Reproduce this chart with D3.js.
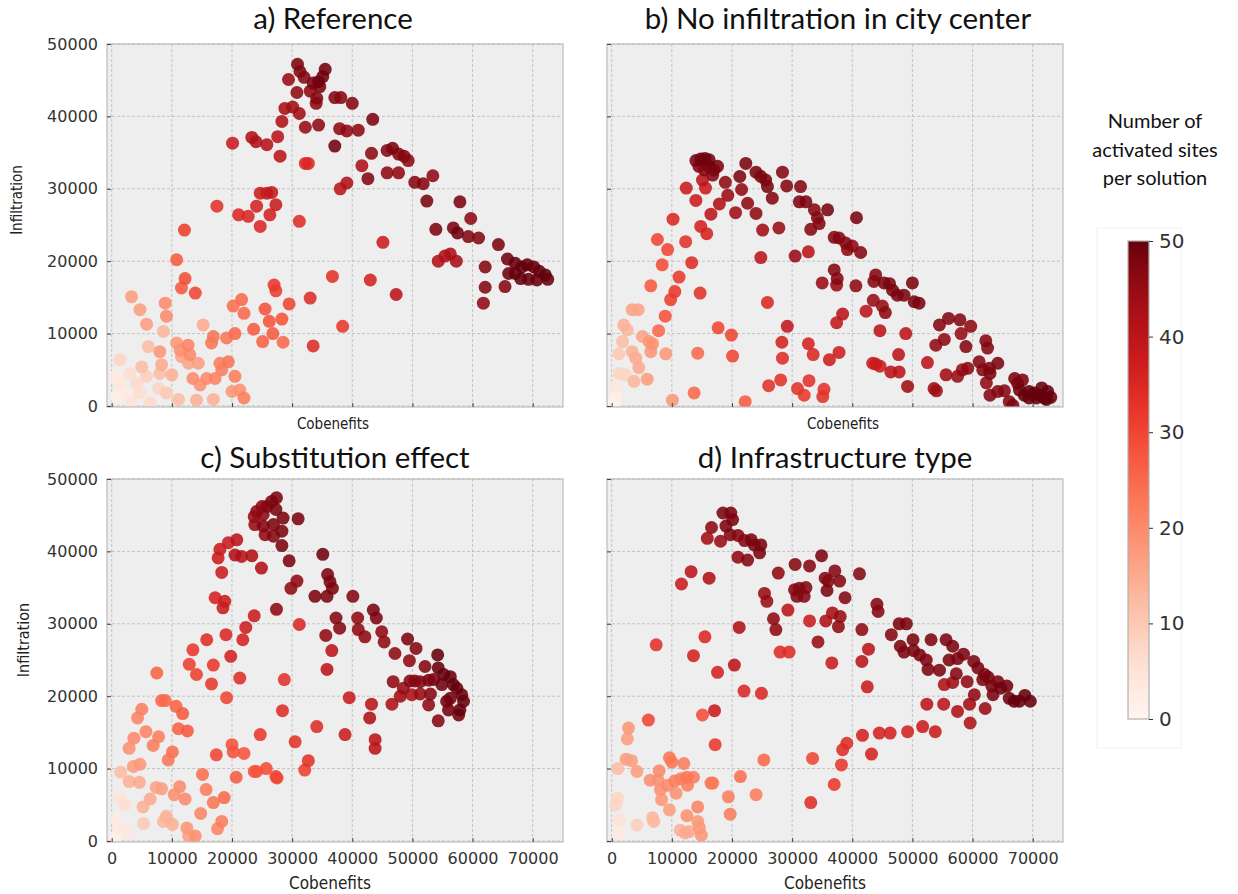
<!DOCTYPE html>
<html>
<head>
<meta charset="utf-8">
<script src="https://cdn.jsdelivr.net/npm/d3@7/dist/d3.min.js"></script>
<style>
  html, body { margin: 0; padding: 0; background: #ffffff; }
  svg { display: block; }
</style>
</head>
<body>
<svg id="chart" width="1238" height="894"></svg>
<script>
// ---- DATA: [cobenefits, infiltration, activated sites] ----
const panelTitles = ["a) Reference", "b) No infiltration in city center", "c) Substitution effect", "d) Infrastructure type"];
const xTickValues = [0, 10000, 20000, 30000, 40000, 50000, 60000, 70000];
const yTickValues = [0, 10000, 20000, 30000, 40000, 50000];
const colorTickValues = [0, 10, 20, 30, 40, 50];
const colorbarTitle = ["Number of", "activated sites", "per solution"];

const panelA = [
[30900,47200,48],[31300,46200,47],[29400,45100,45],[32000,45400,47],[30800,43300,46],[33000,43500,46],[33500,44600,48],[34400,44800,49],[35100,45500,49],[35500,46500,49],[34600,44100,48],[34100,42500,47],[34000,41800,46],[37100,42600,47],[38100,42600,47],[40000,41800,47],[28800,41100,43],[30100,41300,44],[31200,40400,44],[28300,39300,42],[32200,38500,45],[34400,38800,46],[37900,38300,46],[39100,38000,46],[41000,38100,46],[43400,39600,48],[23300,37100,42],[24000,36500,42],[25800,36100,41],[27600,37200,40],[20100,36300,38],[28000,34500,40],[37100,35900,49],[43200,34900,46],[45800,35300,47],[46700,35600,48],[47700,34800,47],[48600,34500,47],[49300,33900,46],[32200,33500,35],[32700,33500,35],[41600,33200,42],[42600,31400,47],[45800,32200,46],[47700,32200,46],[50400,30900,47],[51800,30700,47],[53400,31800,46],[38000,30000,40],[39100,30800,42],[52400,28300,48],[57900,28200,48],[59700,25900,46],[53900,24400,48],[56800,24600,48],[57500,23900,49],[59300,23400,47],[61000,23200,47],[64300,22300,48],[45100,22600,38],[54300,20000,42],[55400,20700,42],[56300,21000,42],[57300,20000,43],[62100,19200,47],[65800,20300,49],[66000,18300,49],[67100,19700,50],[68200,19200,50],[69100,19500,50],[70200,19200,50],[71100,18600,50],[72100,18100,50],[72500,17500,50],[68000,17600,50],[69300,17500,50],[70700,17400,50],[67100,18300,50],[62100,16400,47],[65400,16500,47],[61800,14200,46],[47300,15400,40],
[24700,29400,38],[25800,29400,38],[26600,29500,39],[27300,27800,38],[24100,27600,36],[17500,27600,33],[21100,26400,35],[22700,26200,35],[26300,26400,36],[24700,24800,35],[31200,25500,34],[12100,24300,31],[10800,20200,27],[12200,17600,29],[11600,16300,27],[13900,15600,30],[27000,16700,32],[27300,15900,31],[33000,14900,34],[36700,17900,33],[43000,17400,36],[38400,11000,32],[33500,8300,34],
[3300,15100,17],[4700,13300,17],[8900,14200,20],[9100,12400,20],[5800,11300,17],[15200,11200,15],[8600,10300,13],[20200,13800,24],[21600,14700,25],[22000,12800,25],[25500,13400,28],[26200,11700,28],[28300,12000,28],[29500,14100,30],[23600,10600,27],[20500,10000,25],[19100,9400,23],[16900,9600,23],[16600,8700,23],[25100,8900,26],[26800,10000,27],[28500,8800,25],[8000,7500,18],[12700,8400,21],[11400,7700,19],[13000,7100,20],[6100,8200,12],[5000,5400,12],[1400,6400,8],[8300,5700,15],[14400,5900,17],[18000,5900,22],[19400,6100,23],[18300,5000,22],[17200,3800,21],[15800,3800,20],[13500,3800,20],[14700,2900,19],[20500,4100,22],[20000,2000,18],[21300,2200,19],[22000,1100,22],[16900,900,14],[14100,800,14],[11100,900,12],[9100,1800,10],[6400,400,7],[3300,400,5],[1400,3100,4],[4200,3100,7],[800,1300,2],[7800,2400,8],[10000,4300,14],[11600,6800,16],[5800,4100,9],[3000,4500,6],[8000,4500,12],[10800,8700,18],[12800,5900,16],[600,4100,3],[4700,1800,6],[2200,1800,3]
];

const panelB = [
[14000,33900,48],[14800,34100,49],[15500,34200,49],[16200,34000,49],[14500,33100,47],[15400,32600,47],[16200,33100,48],[17000,32600,48],[17600,33100,48],[16800,31900,47],[15100,31200,40],[15600,30100,38],[12400,30100,38],[14000,28400,38],[18900,30900,46],[19300,29100,45],[17900,27900,42],[16500,26500,40],[22300,33500,48],[21300,31700,48],[21600,29900,46],[22600,28000,46],[20600,26700,44],[24000,32300,48],[24800,31700,48],[25600,31200,48],[25900,30300,48],[26700,28700,47],[24000,26600,46],[28400,32300,47],[29100,30400,47],[31400,30300,47],[31200,28200,48],[32300,28200,48],[33700,27100,47],[34200,26000,47],[35900,27100,48],[33100,24400,47],[34500,25200,47],[40700,26000,48],[27800,24600,45],[25100,24300,44],[37000,23300,47],[37800,23200,47],[38900,22500,47],[40000,22100,46],[39200,21600,46],[41400,21200,47],[30500,20700,45],[32700,21300,40],[24800,20500,40],[37000,18800,47],[37500,17600,47],[35000,17000,45],[37400,16700,45],[40600,16600,46],[43900,18100,47],[43600,17200,47],[45300,17000,48],[46200,16900,48],[46700,16000,48],[47500,15300,48],[48600,15300,48],[50000,17000,48],[50300,14400,48],[51100,14200,48],[43500,14600,45],[45000,13800,45],[45500,12900,46],[42300,13100,40],[38400,12700,40],[37400,11500,39],[44600,10400,40],[48900,10000,40],[54500,11200,47],[56000,12100,47],[57900,11900,47],[59700,11000,46],[58100,10000,45],[53900,8400,46],[55300,9200,46],[58900,8200,47],[62200,9000,47],[62500,8000,47],[52500,6000,40],[55600,4300,44],[57500,4100,45],[58300,5000,45],[59200,5200,46],[61100,6100,47],[61700,5000,47],[62800,5200,47],[64200,5900,48],[62900,4500,48],[62300,3200,46],[62900,1500,47],[64200,2000,47],[65300,2100,47],[66100,600,47],[67000,3800,48],[67500,3100,48],[68300,3600,48],[67800,2200,49],[68600,1500,50],[69400,2000,50],[70300,1800,50],[71100,1500,50],[71900,1100,50],[69400,1100,50],[70600,1100,50],[66700,100,48],[72500,2000,50],[73000,1200,50],[72300,900,50],[71500,2500,50],[49200,2700,44],[53600,2400,44],[54000,2100,44],[46400,4700,40],[47800,4700,40],[47700,7100,40],[43900,5800,38],[44600,5500,38],[43400,5900,38],
[10200,25800,35],[7600,23000,30],[9300,21600,30],[12300,22700,33],[14800,24800,36],[15800,23800,36],[8400,19500,29],[11200,17800,32],[13300,19800,34],[6500,16600,27],[10500,15800,32],[9800,14700,31],[14700,15600,33],[8900,12400,28],[7800,10400,25],[25900,14300,35],[29200,11000,39],[28300,8800,36],[17700,10800,30],[19900,9800,30],[20100,6900,30],[28400,6600,34],[32700,8600,36],[33500,7100,35],[36200,6400,37],[37800,7400,37],[26100,2800,33],[28100,3600,33],[30900,2400,33],[32800,3500,33],[32000,1500,32],[35300,2300,33],[35100,1300,33],[22200,600,27],[13700,1800,25],[10100,800,18],[14300,7300,25],[9000,7200,18],
[3400,13300,16],[4400,13300,16],[2000,11200,14],[2600,10500,13],[1800,8900,12],[5100,9600,16],[6200,8900,18],[6800,8600,19],[6500,7500,18],[3400,7500,14],[4000,6600,15],[4500,5300,15],[1200,7200,10],[1200,4500,8],[2300,4300,8],[5900,3700,17],[3700,3400,13],[700,2700,4],[700,1300,2],[400,400,1]
];

const panelC = [
[27400,47400,48],[26600,46900,48],[25800,46200,47],[25000,46200,46],[24100,45500,46],[23700,44800,44],[25200,45100,46],[27300,45800,48],[28500,44600,48],[31000,44500,48],[26900,43700,48],[25200,43500,47],[28300,42800,48],[25500,42300,46],[26900,42100,47],[28300,40800,48],[23800,43700,45],[20800,41600,40],[19400,41200,38],[18000,40300,38],[17700,39100,38],[20500,39500,42],[21600,39300,41],[23300,39400,42],[24900,37700,42],[29500,38700,48],[18300,37100,38],[35100,39600,49],[30800,35900,46],[29800,34900,46],[35900,36800,48],[36300,35800,48],[36700,34900,48],[33800,33800,48],[35800,33800,48],[40100,33800,47],[17200,33600,36],[18800,33100,38],[18500,32200,38],[27400,32000,46],[23700,31100,38],[31200,29900,35],[37300,30800,47],[37900,29400,47],[40900,30800,46],[43500,31900,48],[44000,30800,48],[41000,29200,46],[42100,28200,46],[44900,28900,46],[35600,28400,46],[45300,27500,46],[47100,25900,46],[49200,27900,48],[50600,26600,47],[49500,24900,46],[52100,24100,47],[54200,25700,50],[54300,23900,50],[55200,23000,50],[56300,22700,50],[56800,21600,50],[57400,21100,50],[58200,20200,50],[58500,19300,50],[57900,18100,50],[57700,17400,49],[56000,18100,49],[55700,19300,49],[54900,21600,49],[53500,22300,48],[52700,22200,48],[51300,22000,47],[50400,22100,47],[49600,22100,47],[46800,22000,46],[48500,21100,45],[49900,20200,42],[51300,20300,45],[53000,20300,47],[52700,18800,46],[48000,20000,44],[46600,18900,42],[54300,16600,47],[56300,19700,49],[36600,26300,40],[35800,23700,40],[39500,19800,38],[43200,18900,40],[42900,17000,42],[43800,14000,40],[43800,12800,40],[38800,14700,38],[34100,15800,34],
[15800,27800,34],[19000,28500,35],[21800,27800,36],[22300,29500,37],[13500,26400,32],[12900,24400,31],[14100,23000,31],[16900,24300,32],[19800,25500,36],[16600,21700,32],[21300,22500,34],[28700,22300,33],[19100,19800,30],[28400,18000,34],[7500,23200,26],[8300,19400,25],[8900,19400,25],[10700,18600,26],[11800,17600,27],[11100,15500,26],[12600,15200,27],[5000,18200,22],[4300,17000,21],[5700,15100,21],[3700,14200,20],[2900,12800,19],[7800,14400,22],[6900,13200,22],[10100,12300,24],[9400,11200,23],[4700,10600,18],[3600,10300,17],[1500,9500,12],[2900,8200,14],[4600,8100,15],[7400,7400,16],[8300,7200,17],[11300,7500,20],[10400,6400,19],[12200,5800,20],[6400,5800,15],[5200,4700,14],[15100,9200,24],[15700,7100,22],[16900,5300,23],[18700,6000,25],[14800,3800,21],[18300,2700,22],[17600,1700,21],[12500,1800,18],[13900,700,19],[12800,700,17],[10100,2300,14],[9100,3400,14],[8600,2700,13],[5300,2400,10],[1400,5900,5],[2200,5000,6],[800,3100,3],[1100,1800,3],[2500,1300,4],[600,600,2],[20000,13300,28],[20200,12300,28],[22000,12100,28],[17400,11900,30],[24700,14700,32],[30500,13700,33],[32700,11100,33],[32100,9800,31],[25700,10000,29],[23700,9600,28],[24100,9600,28],[20700,8800,27],[27300,8900,30],[27500,8700,30]
];

const panelD = [
[18500,45300,48],[19800,45300,48],[20100,44400,48],[19000,43500,48],[16600,43300,46],[15900,41800,44],[18100,41400,45],[19700,42300,47],[21000,42200,47],[22100,41500,47],[23200,41600,48],[23700,40900,48],[24800,40900,48],[24600,39800,48],[22600,38800,47],[21000,39200,46],[34900,39400,48],[30500,38200,47],[32900,38000,47],[27700,37000,46],[37100,37300,47],[41200,36900,47],[13200,37200,40],[11600,35500,38],[16200,36300,42],[35500,36300,47],[36000,35900,47],[37900,35900,47],[35800,34600,48],[30400,34700,47],[31200,34900,47],[32300,35000,47],[30800,33800,47],[32000,33800,47],[38800,33600,47],[25400,34200,45],[25800,33100,45],[29300,31900,40],[36700,31500,43],[38000,31000,45],[37700,29600,46],[32900,30400,38],[35600,30400,42],[26900,30700,46],[27300,29200,46],[21200,29500,42],[34300,27500,45],[41600,29200,46],[44100,32700,47],[44300,31700,47],[42700,26500,40],[41600,24800,40],[42500,21300,38],[36600,24600,38],[28000,26100,34],[29500,26100,34],[20400,24300,40],[17600,23300,36],[13600,25600,36],[15500,28200,35],[7400,27100,33],[22000,20700,35],[24900,20400,35],[17100,18000,38],[15100,17400,29],[6100,16700,30],[17200,13300,32],[25300,11200,25],[21400,8900,24],[16800,8000,23],[24000,6400,22],[19400,6100,22],[19700,3700,22],
[46500,28500,47],[47800,30000,48],[49000,30000,48],[48000,26900,48],[48600,26100,48],[50100,27800,48],[50200,26300,48],[51200,25700,48],[52300,25000,48],[53100,27800,48],[55600,27800,48],[56700,26900,48],[56100,25000,48],[57500,25200,48],[58500,25800,48],[54500,23600,48],[52600,23700,48],[57300,23100,47],[55300,21600,42],[56700,21900,44],[59100,22000,46],[60200,24800,48],[60900,23900,48],[62000,23000,48],[61700,22300,48],[62600,22600,48],[63200,21400,48],[64200,22000,48],[64700,21100,49],[65700,21400,49],[63400,20200,48],[66100,19700,49],[66900,19300,50],[67800,19300,50],[68700,20100,50],[69600,19300,50],[60300,20200,46],[62100,18300,45],[59500,18900,44],[57500,17900,42],[55200,18900,40],[52400,18900,40],[59600,16300,42],[53800,15100,38],[51700,15800,38],[49200,15100,36],[46300,14900,36],[44500,14900,36],[41700,14600,36],[43200,12000,36],[39100,13500,34],[38400,12600,34],[38200,10500,32],[37000,7800,32],[33400,11400,30],[33100,5300,34],
[2800,15600,18],[2600,14100,17],[2400,11300,17],[3300,11100,17],[4200,9600,17],[1000,10000,12],[6400,8400,19],[7900,9700,20],[9600,11500,23],[10000,10900,23],[12000,10700,22],[8100,7100,19],[7700,8400,19],[9300,7700,20],[10500,8300,22],[11500,8600,22],[12500,8800,23],[13600,8800,22],[12600,7700,22],[10700,6600,19],[8300,5700,18],[9600,4300,17],[14300,4700,21],[12500,3500,19],[6800,3200,13],[7000,2700,13],[4200,2200,9],[1000,5900,8],[700,5000,8],[1400,2900,5],[1100,1100,3],[11400,1500,14],[12200,1100,15],[12900,1300,15],[14300,2700,18],[14600,1800,18],[14900,800,18],[16500,8000,23]
];

const panelData = [panelA, panelB, panelC, panelD];

// ---- LAYOUT ----
const svg = d3.select("#chart");
const pw = 456, ph = 363;
const panels = [
  {left: 107, top: 44,  yTicks: true,  xTicks: false, tx: 333, ty: 29,  lx: 333, ly: 429, ylab: {x: 22, y: 200}},
  {left: 607, top: 44,  yTicks: false, xTicks: false, tx: 838, ty: 29,  lx: 843, ly: 429, ylab: null},
  {left: 107, top: 479, yTicks: true,  xTicks: true,  tx: 335, ty: 468, lx: 330, ly: 889, ylab: {x: 29, y: 640}},
  {left: 607, top: 479, yTicks: false, xTicks: true,  tx: 835, ty: 468, lx: 825, ly: 889, ylab: null}
];

const color = v => d3.interpolateReds(Math.max(0, Math.min(1, v / 50)));
const titleFont = "Lato, 'Open Sans', sans-serif";
const labelFont = "'Liberation Sans Narrow', 'DejaVu Sans Condensed', Lato, sans-serif";
const tickFont = "'DejaVu Sans', sans-serif";

const defs = svg.append("defs");

panels.forEach((p, i) => {
  const x = d3.scaleLinear().domain([-780, 75040]).range([0, pw]);
  const y = d3.scaleLinear().domain([-140, 50000]).range([ph, 0]);
  const g = svg.append("g").attr("transform", `translate(${p.left},${p.top})`);

  g.append("rect").attr("width", pw).attr("height", ph).attr("fill", "#eeeeee");

  // grid
  g.append("g").selectAll("line").data(xTickValues).join("line")
    .attr("x1", d => x(d)).attr("x2", d => x(d)).attr("y1", 0).attr("y2", ph)
    .attr("stroke", "#b8b8b8").attr("stroke-width", 0.8).attr("stroke-dasharray", "3,2");
  g.append("g").selectAll("line").data(yTickValues).join("line")
    .attr("y1", d => y(d)).attr("y2", d => y(d)).attr("x1", 0).attr("x2", pw)
    .attr("stroke", "#b8b8b8").attr("stroke-width", 0.8).attr("stroke-dasharray", "3,2");

  // points
  defs.append("clipPath").attr("id", "clip" + i)
    .append("rect").attr("width", pw).attr("height", ph);
  const pts = panelData[i].slice().sort((a, b) => a[2] - b[2]);
  g.append("g").attr("clip-path", `url(#clip${i})`)
    .selectAll("circle").data(pts).join("circle")
    .attr("cx", d => x(d[0])).attr("cy", d => y(d[1])).attr("r", 6.5)
    .attr("fill", d => color(d[2])).attr("fill-opacity", 0.88);

  // frame
  g.append("rect").attr("width", pw).attr("height", ph)
    .attr("fill", "none").attr("stroke", "#bcbcbc").attr("stroke-width", 1.2);

  // axes with inward ticks
  const ya = d3.axisLeft(y).tickValues(yTickValues).tickSize(-4).tickPadding(9)
    .tickFormat(p.yTicks ? d3.format("d") : () => "");
  const yg = g.append("g").call(ya);
  const xa = d3.axisBottom(x).tickValues(xTickValues).tickSize(-4).tickPadding(8)
    .tickFormat(p.xTicks ? d3.format("d") : () => "");
  const xg = g.append("g").attr("transform", `translate(0,${ph})`).call(xa);
  [yg, xg].forEach(a => {
    a.select(".domain").remove();
    a.selectAll(".tick line").attr("stroke", "#444").attr("stroke-width", 1);
    a.selectAll(".tick text").attr("font-family", tickFont).attr("font-size", 16).attr("fill", "#333");
  });
  xg.selectAll(".tick text").attr("dy", "0.9em");

  // title
  svg.append("text").attr("x", p.tx).attr("y", p.ty).attr("text-anchor", "middle")
    .attr("font-family", titleFont).attr("font-size", 29.5).attr("fill", "#111")
    .text(panelTitles[i]);
  // x label
  svg.append("text").attr("x", p.lx).attr("y", p.ly).attr("text-anchor", "middle")
    .attr("font-family", labelFont).attr("font-size", p.xTicks ? 17 : 15).attr("fill", "#222")
    .text("Cobenefits");
  if (p.ylab) {
    svg.append("text").attr("transform", `translate(${p.ylab.x},${p.ylab.y}) rotate(-90)`)
      .attr("text-anchor", "middle").attr("font-family", labelFont)
      .attr("font-size", i === 0 ? 15 : 16).attr("fill", "#222")
      .text("Infiltration");
  }
});

// ---- COLORBAR ----
const cbX = 1128, cbW = 21, cbTop = 241, cbBot = 719;
const cy = d3.scaleLinear().domain([0, 50]).range([cbBot, cbTop]);
svg.append("rect").attr("x", 1097).attr("y", 228).attr("width", 84).attr("height", 520)
  .attr("fill", "none").attr("stroke", "#f2f2f2").attr("stroke-width", 1);
const grad = defs.append("linearGradient").attr("id", "cbgrad")
  .attr("x1", 0).attr("y1", 1).attr("x2", 0).attr("y2", 0);
d3.range(0, 1.0001, 0.05).forEach(t => {
  grad.append("stop").attr("offset", t).attr("stop-color", d3.interpolateReds(t));
});
svg.append("rect").attr("x", cbX).attr("y", cbTop).attr("width", cbW).attr("height", cbBot - cbTop)
  .attr("fill", "url(#cbgrad)").attr("stroke", "#b0b0b0").attr("stroke-width", 1.2);
const cg = svg.append("g").attr("transform", `translate(${cbX + cbW},0)`)
  .call(d3.axisRight(cy).tickValues(colorTickValues).tickSize(4).tickPadding(6).tickFormat(d3.format("d")));
cg.select(".domain").remove();
cg.selectAll(".tick line").attr("stroke", "#333");
cg.selectAll(".tick text").attr("font-family", tickFont).attr("font-size", 20).attr("fill", "#333");

svg.append("g").selectAll("text").data(colorbarTitle).join("text")
  .attr("x", 1155).attr("y", (d, i) => 128 + i * 28.5).attr("text-anchor", "middle")
  .attr("font-family", titleFont).attr("font-size", 20).attr("fill", "#111")
  .text(d => d);
</script>
</body>
</html>
